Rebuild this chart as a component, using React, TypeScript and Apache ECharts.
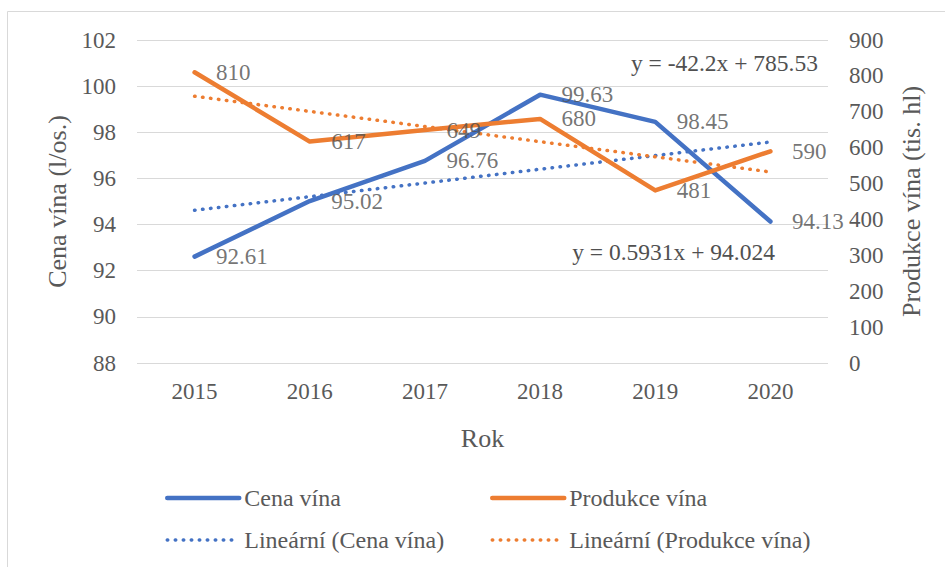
import React, { useEffect, useRef } from "react";
import * as echarts from "echarts";

// ---- data ----
const years = ["2015", "2016", "2017", "2018", "2019", "2020"];
const cenaVina = [92.61, 95.02, 96.76, 99.63, 98.45, 94.13];
const produkceVina = [810, 617, 649, 680, 481, 590];
const cenaTrend = [94.62, 95.21, 95.8, 96.4, 96.99, 97.58];
const produkceTrend = [743.3, 701.1, 658.9, 616.7, 574.5, 532.3];
const leftAxisRange = [88, 102, 2];
const rightAxisRange = [0, 900, 100];
const cenaEquation = "y = 0.5931x + 94.024";
const produkceEquation = "y = -42.2x + 785.53";
const seriesNames = ["Cena vína", "Produkce vína", "Lineární (Cena vína)", "Lineární (Produkce vína)"];
const axisTitles = ["Rok", "Cena vína (l/os.)", "Produkce vína (tis. hl)"];

const FONT = "'Times New Roman', 'Liberation Serif', serif";
const BLUE = "#4472C4";
const ORANGE = "#ED7D31";
const AXIS_TEXT = "#595959";
const LABEL_TEXT = "#505050";
const GRID = "#D9D9D9";

export default function App() {
  const ref = useRef<HTMLDivElement>(null);

  useEffect(() => {
    if (!ref.current) return;
    const chart = echarts.init(ref.current, undefined, { renderer: "svg" });

    const solid = (color: string) => ({ color, width: 4.5, cap: "round", join: "round" });
    const dotted = (color: string) => ({ color, width: 3.5, type: [0.5, 7.5], cap: "round" });
    const labelSeries = (name: string, data: number[], axis: number) => ({
      name,
      type: "scatter",
      yAxisIndex: axis,
      data,
      symbol: "circle",
      symbolSize: 1,
      silent: true,
      z: 5,
      itemStyle: { color: "rgba(0,0,0,0)" },
      label: {
        show: true,
        position: "right",
        distance: 21,
        fontSize: 23,
        fontFamily: FONT,
        color: LABEL_TEXT,
        formatter: (p: any) => String(p.value),
      },
    });

    const legendItem = (name: string, color: string, isTrend: boolean) => ({
      name,
      itemStyle: { opacity: 0 },
      lineStyle: isTrend ? dotted(color) : solid(color),
    });

    const legendBase = {
      orient: "vertical",
      top: 486,
      padding: 0,
      itemWidth: 72,
      itemHeight: 14,
      itemGap: 18,
      selectedMode: false,
      textStyle: { fontSize: 24, color: AXIS_TEXT, fontFamily: FONT, lineHeight: 24 },
    };

    const axisText = { fontSize: 23, color: AXIS_TEXT, fontFamily: FONT };
    const nameText = { fontSize: 26, color: AXIS_TEXT, fontFamily: FONT };

    const option: any = {
      animation: false,
      backgroundColor: "#ffffff",
      textStyle: { fontFamily: FONT },
      grid: { left: 137, right: 117, top: 40, bottom: 204 },
      legend: [
        {
          ...legendBase,
          left: 165,
          data: [legendItem(seriesNames[0], BLUE, false), legendItem(seriesNames[2], BLUE, true)],
        },
        {
          ...legendBase,
          left: 490,
          data: [legendItem(seriesNames[1], ORANGE, false), legendItem(seriesNames[3], ORANGE, true)],
        },
      ],
      xAxis: {
        type: "category",
        data: years,
        boundaryGap: true,
        axisLine: { show: false },
        axisTick: { show: false },
        axisLabel: { margin: 17, ...axisText },
        name: axisTitles[0],
        nameLocation: "middle",
        nameGap: 62,
        nameTextStyle: nameText,
      },
      yAxis: [
        {
          type: "value",
          min: leftAxisRange[0],
          max: leftAxisRange[1],
          interval: leftAxisRange[2],
          axisLine: { show: false },
          axisTick: { show: false },
          splitLine: { show: true, lineStyle: { color: GRID, width: 1 } },
          axisLabel: { margin: 21, ...axisText },
        },
        {
          type: "value",
          position: "right",
          min: rightAxisRange[0],
          max: rightAxisRange[1],
          interval: rightAxisRange[2],
          axisLine: { show: false },
          axisTick: { show: false },
          splitLine: { show: false },
          axisLabel: { margin: 21, ...axisText },
        },
      ],
      series: [
        {
          name: seriesNames[0],
          type: "line",
          yAxisIndex: 0,
          data: cenaVina,
          symbol: "none",
          lineStyle: solid(BLUE),
          itemStyle: { color: BLUE },
          z: 3,
        },
        {
          name: seriesNames[1],
          type: "line",
          yAxisIndex: 1,
          data: produkceVina,
          symbol: "none",
          lineStyle: solid(ORANGE),
          itemStyle: { color: ORANGE },
          z: 3,
        },
        {
          name: seriesNames[2],
          type: "line",
          yAxisIndex: 0,
          data: cenaTrend,
          symbol: "none",
          lineStyle: dotted(BLUE),
          itemStyle: { color: BLUE },
          z: 2,
        },
        {
          name: seriesNames[3],
          type: "line",
          yAxisIndex: 1,
          data: produkceTrend,
          symbol: "none",
          lineStyle: dotted(ORANGE),
          itemStyle: { color: ORANGE },
          z: 2,
        },
        labelSeries("cenaLabels", cenaVina, 0),
        labelSeries("produkceLabels", produkceVina, 1),
      ],
      graphic: [
        {
          type: "rect",
          silent: true,
          z: -1,
          shape: { x: 7.5, y: 11.5, width: 980, height: 620 },
          style: { fill: "none", stroke: GRID, lineWidth: 1 },
        },
        {
          type: "text",
          silent: true,
          x: 57.5,
          y: 201.5,
          rotation: Math.PI / 2,
          style: {
            text: axisTitles[1],
            align: "center",
            verticalAlign: "middle",
            ...nameText,
            fill: AXIS_TEXT,
          },
        },
        {
          type: "text",
          silent: true,
          x: 911,
          y: 201.5,
          rotation: Math.PI / 2,
          style: {
            text: axisTitles[2],
            align: "center",
            verticalAlign: "middle",
            ...nameText,
            fill: AXIS_TEXT,
          },
        },
        {
          type: "text",
          silent: true,
          x: 818,
          y: 63,
          style: {
            text: produkceEquation,
            align: "right",
            verticalAlign: "middle",
            fontSize: 23.5,
            fontFamily: FONT,
            fill: LABEL_TEXT,
          },
        },
        {
          type: "text",
          silent: true,
          x: 775,
          y: 252,
          style: {
            text: cenaEquation,
            align: "right",
            verticalAlign: "middle",
            fontSize: 23.5,
            fontFamily: FONT,
            fill: LABEL_TEXT,
          },
        },
      ],
    };

    chart.setOption(option);
    return () => chart.dispose();
  }, []);

  return (
    <div
      ref={ref}
      style={{ position: "fixed", left: 0, top: 0, width: 945, height: 567, background: "#fff" }}
    />
  );
}
